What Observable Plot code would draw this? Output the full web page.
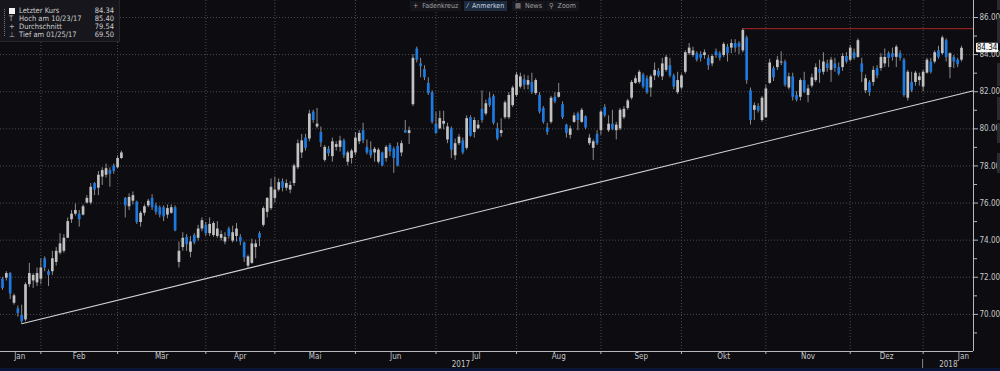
<!DOCTYPE html>
<html><head><meta charset="utf-8">
<script src="https://cdn.jsdelivr.net/npm/d3@7"></script>
<script src="https://cdn.jsdelivr.net/npm/@observablehq/plot@0.6"></script>
<style>
html,body{margin:0;padding:0;}
body{background:#0c0c11;width:1000px;height:371px;overflow:hidden;position:relative;font-family:"Liberation Sans Narrow","DejaVu Sans Condensed","Roboto",sans-serif;}
#chart{position:absolute;left:0;top:0;}
.legend{position:absolute;left:0;top:0;width:119px;height:41px;background:#16161c;border-right:1px solid #26262c;border-bottom:1px solid #26262c;color:#cfcfcf;font-size:7.5px;}
.legend .row{position:absolute;left:0;width:114px;height:8px;line-height:8px;}
.legend .lab{position:absolute;left:19px;}
.legend .val{position:absolute;right:0;}
.legend .ic{position:absolute;left:9px;color:#bbb;}
.legend .sq{position:absolute;left:9px;top:1px;width:6px;height:6px;background:#f2f2f2;}
.legend .vline{position:absolute;left:4px;top:9px;height:27px;border-left:1px dotted #777;}
.tb{position:absolute;top:1px;height:10px;line-height:10px;font-size:7px;color:#a0a0a0;background:#15151b;padding:0 3px;}
.tb.act{background:#1d2b3f;color:#c8d4e4;}
.strip{position:absolute;left:0;top:368px;width:1000px;height:3px;background:#0c1638;}
.edge{position:absolute;left:997px;width:3px;background:#2a2a30;}
</style></head>
<body>
<div id="chart"></div>
<div class="legend">
  <div class="vline"></div>
  <div class="row" style="top:7px"><div class="sq"></div><span class="lab">Letzter Kurs</span><span class="val" id="v0"></span></div>
  <div class="row" style="top:15px"><span class="ic">T</span><span class="lab">Hoch am <span id="d1"></span></span><span class="val" id="v1"></span></div>
  <div class="row" style="top:23px"><span class="ic">+</span><span class="lab">Durchschnitt</span><span class="val" id="v2"></span></div>
  <div class="row" style="top:31px"><span class="ic">⊥</span><span class="lab">Tief am <span id="d3"></span></span><span class="val" id="v3"></span></div>
</div>
<div class="tb" style="left:410px">+&nbsp; Fadenkreuz</div>
<div class="tb act" style="left:464px">⁄&nbsp; Anmerken</div>
<div class="tb" style="left:512px">▤&nbsp; News</div>
<div class="tb" style="left:546px">⚲&nbsp; Zoom</div>
<div class="edge" style="top:0;height:10px"></div>
<div class="edge" style="top:18px;height:25px"></div>
<div class="edge" style="top:63px;height:23px"></div>
<div class="edge" style="top:97px;height:23px"></div>
<div class="edge" style="top:123px;height:20px"></div>
<div class="edge" style="top:153px;height:20px"></div>
<div class="strip"></div>
<script>
// ---- data (daily OHLC, trading-day index order, Jan 18 2017 .. Jan 16 2018) ----
const open = [71.9,71.95,72.2,70.6,70.3,69.95,69.7,71.6,71.8,71.7,
71.9,73.0,72.3,72.3,72.8,73.3,73.4,74.1,75.1,75.4,75.4,75.35,76.0,76.0,77.05,76.8,77.4,77.5,77.75,78.0,
77.9,78.4,76.25,75.8,76.1,76.05,74.95,75.45,75.85,76.25,75.85,75.75,75.75,75.35,75.45,75.75,72.8,73.6,74.15,73.35,
74.25,74.1,74.6,74.8,74.35,74.25,74.2,74.1,73.9,74.6,73.95,74.2,74.15,73.85,72.6,72.75,73.6,74.35,74.8,75.5,
75.7,76.25,76.7,77.15,76.8,76.7,77.05,77.9,78.7,79.5,79.45,80.9,80.1,79.8,78.3,78.9,78.5,79.0,79.0,79.35,
78.2,78.4,78.7,79.3,79.9,79.0,78.85,78.7,78.2,78.7,78.4,79.1,78.9,79.05,78.7,79.9,79.75,81.3,84.3,83.5,
83.2,82.45,81.95,80.25,80.0,80.25,79.4,80.0,78.55,79.2,79.35,78.95,80.6,79.8,80.0,81.05,80.8,81.65,81.75,80.0,
79.75,80.6,80.6,81.25,81.8,82.25,82.65,82.35,82.5,81.9,81.8,81.1,80.05,80.35,81.7,81.7,81.3,80.2,79.65,80.35,
80.8,80.35,80.65,79.2,78.95,79.7,79.9,81.15,79.9,80.25,79.9,80.0,80.6,81.1,81.65,82.45,82.5,82.9,82.7,82.2,
82.85,83.1,82.8,83.15,83.4,82.85,81.95,82.2,83.05,84.05,83.95,84.05,84.0,83.95,83.8,83.5,84.15,84.05,83.95,84.4,
84.35,84.6,84.6,84.2,84.9,82.05,81.0,81.2,80.45,80.6,82.45,83.25,83.3,83.55,83.6,82.2,82.8,81.8,81.7,82.6,
81.8,82.3,82.6,83.2,83.05,83.5,83.15,83.5,83.3,83.3,83.9,83.7,84.1,83.85,83.5,82.05,82.5,82.5,83.25,83.25,
83.5,84.05,84.05,83.85,84.05,83.7,81.65,82.5,82.5,82.6,82.25,83.0,83.6,83.6,84.2,84.05,84.75,83.3,83.85,83.7,83.7];
const high = [72.0,72.3,72.25,71.1,70.45,70.5,71.7,72.75,72.2,72.5,
73.0,73.1,72.4,73.4,73.6,74.35,74.3,75.2,75.6,75.95,75.6,75.9,76.4,77.05,77.1,77.7,77.9,78.1,77.9,78.1,
78.55,78.8,76.3,76.5,76.6,76.1,75.55,75.9,76.2,76.45,76.0,75.85,75.85,75.9,75.9,75.85,73.9,74.4,74.3,74.2,
74.35,74.8,75.2,74.95,75.2,75.0,75.0,74.5,74.4,74.7,74.75,74.9,74.3,73.9,73.2,74.05,74.0,74.45,75.8,76.3,
77.3,77.4,77.3,77.3,77.25,77.15,78.1,79.4,79.7,79.7,81.0,81.0,81.1,80.1,79.1,79.05,79.5,79.3,79.6,79.45,
78.8,78.9,79.8,79.9,80.3,79.4,79.3,79.0,78.95,78.75,79.1,79.2,79.0,79.25,79.35,80.45,80.1,84.0,84.4,83.8,
83.4,82.75,82.05,80.9,80.95,80.95,80.3,80.1,79.45,79.7,79.5,80.7,80.7,80.6,80.45,82.05,81.55,81.95,81.85,80.3,
80.55,81.5,81.95,82.3,83.05,83.0,82.9,82.85,83.0,82.7,81.95,81.2,80.3,81.75,81.95,82.45,81.45,80.25,80.15,80.85,
80.9,81.1,80.7,79.7,79.4,79.9,81.0,81.3,80.7,81.0,80.35,81.1,81.2,81.6,82.6,82.85,83.15,83.0,82.85,82.9,
83.55,83.25,83.8,83.95,83.8,82.95,83.05,82.95,84.2,84.6,84.4,84.15,84.15,84.25,83.95,84.0,84.3,84.15,84.65,84.55,
84.8,84.8,84.7,85.4,85.0,82.2,81.4,81.35,81.75,82.35,83.75,83.35,83.9,84.15,83.7,83.0,83.0,82.0,82.7,83.05,
82.35,82.95,83.5,83.7,84.1,83.7,83.85,83.8,83.55,84.05,84.1,84.5,84.3,84.85,83.8,82.9,82.6,83.35,83.4,84.05,
84.3,84.15,84.35,84.5,84.2,83.8,83.15,83.05,83.1,83.0,83.15,83.8,83.8,84.2,84.45,85.0,84.85,84.1,83.95,83.8,84.45];
const low = [71.3,71.8,70.8,70.5,69.85,69.5,69.6,71.45,71.4,71.5,
71.6,72.3,71.5,72.1,72.6,73.2,73.3,74.1,74.9,75.3,74.7,75.3,75.95,75.9,76.4,76.4,76.95,77.35,76.85,77.55,
77.85,78.35,75.2,75.6,75.9,74.85,74.7,75.3,75.75,75.6,75.35,75.2,75.0,75.15,75.4,74.45,72.5,73.4,73.4,73.05,
73.75,73.95,74.45,74.2,74.2,74.15,74.1,73.95,73.75,74.05,73.85,73.9,73.7,72.8,72.45,72.7,73.0,73.65,74.7,75.2,
75.6,76.0,76.6,76.6,76.65,76.5,76.9,77.8,78.4,78.8,79.3,80.3,80.0,79.0,78.2,78.5,78.2,78.8,78.75,78.4,
78.0,78.1,78.55,79.15,79.2,78.6,78.4,78.2,78.1,77.95,78.2,78.5,77.6,77.95,78.5,79.75,79.15,81.2,83.55,82.75,
82.6,81.8,80.25,79.7,79.95,79.95,79.2,78.4,78.3,79.1,78.6,78.85,79.55,79.5,79.95,80.3,80.7,81.15,80.2,79.35,
79.55,80.5,80.5,81.15,81.7,82.15,82.1,82.1,81.85,81.8,80.8,80.25,79.65,80.25,81.35,81.65,80.5,79.5,79.45,80.3,
79.9,80.3,79.95,79.1,78.3,79.1,79.65,80.6,79.8,79.9,79.4,79.9,80.5,81.0,81.55,82.4,82.4,82.15,81.85,81.7,
82.6,82.75,82.6,83.05,82.75,82.1,81.85,82.1,82.95,83.95,83.85,83.6,83.6,83.75,83.15,83.35,83.8,83.65,83.85,83.6,
84.05,84.1,84.0,84.1,82.4,80.2,80.45,80.85,80.35,80.55,82.4,82.55,83.15,83.4,82.25,82.1,81.5,81.45,81.5,81.9,
81.4,82.2,82.5,82.45,82.9,83.05,82.5,83.05,82.85,83.1,83.5,83.6,83.7,83.8,82.5,81.9,81.75,82.3,82.7,83.1,
83.3,83.3,83.65,83.3,83.65,81.7,81.5,81.95,82.3,82.3,82.0,82.95,82.95,83.5,83.75,83.95,83.6,82.7,83.25,83.3,83.6];
const close = [71.4,72.2,71.1,71.0,70.05,69.6,71.6,72.2,72.1,72.2,
72.5,72.5,72.1,73.0,73.4,73.8,74.1,75.0,75.4,75.6,75.1,75.8,76.25,76.85,76.7,77.5,77.75,77.85,77.55,77.7,
78.4,78.7,75.85,76.3,76.4,74.95,75.45,75.8,76.1,75.75,75.5,75.35,75.25,75.7,75.75,74.5,73.4,74.1,73.75,73.9,
73.85,74.6,75.05,74.35,74.85,74.9,74.6,74.3,74.15,74.2,74.4,74.6,73.9,73.05,73.1,73.8,73.8,74.1,75.7,76.25,
76.85,76.7,77.1,76.8,77.05,76.95,78.0,79.2,79.35,78.95,80.8,80.45,80.25,79.25,79.0,78.65,79.3,79.15,79.35,78.55,
78.7,78.8,79.5,79.75,79.35,78.7,78.55,78.9,78.85,78.0,79.0,78.75,78.4,78.0,79.2,79.78,79.9,83.8,83.7,83.35,
82.75,81.9,80.35,79.75,80.55,80.4,80.1,78.85,79.2,79.55,78.7,80.55,79.6,80.45,80.2,80.45,81.35,81.25,80.3,79.45,
79.9,81.4,81.8,82.2,82.9,82.8,82.35,82.6,81.95,82.6,80.9,80.35,79.8,81.65,81.45,81.95,80.6,79.75,80.0,80.7,
80.45,81.0,80.05,79.5,79.3,79.2,80.9,80.7,80.25,79.95,80.2,81.0,81.05,81.5,82.5,82.7,83.05,82.25,81.95,82.8,
83.15,82.85,83.5,83.85,82.85,82.25,82.6,82.85,84.1,84.35,84.2,83.7,83.8,84.1,83.4,83.9,83.95,83.8,84.55,84.05,
84.6,84.35,84.4,85.3,82.6,80.45,81.25,80.95,81.65,82.15,83.55,82.75,83.7,83.6,82.35,82.8,81.7,81.55,82.6,81.95,
82.15,82.75,83.3,83.0,83.6,83.25,83.7,83.25,82.95,83.9,83.6,84.35,83.8,84.75,83.05,82.7,81.95,83.15,82.85,83.85,
83.85,83.8,83.85,84.4,83.8,81.8,83.05,82.05,83.0,82.8,83.05,83.7,83.05,84.1,83.85,84.9,83.85,84.05,83.6,83.45,84.34];

// month axis (index of first trading day of each month), labels
const monthStartIdx = [10,30,53,71,92,113,134,156,177,199,221,240];
const monthLabels = ["Jan","Feb","Mär","Apr","Mai","Jun","Jul","Aug","Sep","Okt","Nov","Dez","Jan"];
const yearLabels = ["2017","2018"];
const yMajor = [70,72,74,76,78,80,82,84,86];
const yMinor = [69,71,73,75,77,79,81,83,85];

// summary stats from legend
const lastPrice = 84.34;
const highVal = 85.40, highDate = "10/23/17", highIdx = 193;
const avgVal = 79.54;
const lowVal = 69.50, lowDate = "01/25/17", lowIdx = 5;
const trendEndVal = 82.05; // trend line value at right edge of plot

// scale domains
const xDom = [-0.52, 253.13];
const yDom = [68.0, 86.916];

const candles = open.map((o,i)=>({i, o, h:high[i], l:low[i], c:close[i]}));
const bounds = [-1, ...monthStartIdx, 261];
const monthMid = monthLabels.map((m,k)=>({label:m, x:(bounds[k]+bounds[k+1])/2}));
const yearMid = [{label:yearLabels[0], x:(bounds[0]+monthStartIdx[11])/2},{label:yearLabels[1], x:(monthStartIdx[11]+xDom[1])/2}];
const trend = [{x:lowIdx, y:lowVal},{x:xDom[1], y:trendEndVal}];

const UP="#c2c2c2", DOWN="#1f7ae0", WICK="#8c8c8c", GRID="#4a4a50", AX="#b8b8b8", TXT="#c8c8c8";

const plot = Plot.plot({
  width:1000, height:371,
  marginLeft:0, marginRight:27, marginTop:0, marginBottom:20,
  style:{background:"transparent", color:TXT, fontFamily:'"Liberation Sans Narrow","DejaVu Sans Condensed",sans-serif', fontSize:"8px", overflow:"visible"},
  x:{type:"linear", domain:xDom, axis:null},
  y:{type:"linear", domain:yDom, axis:null},
  marks:[
    Plot.ruleY(yMajor, {stroke:GRID, strokeDasharray:"1,2"}),
    Plot.ruleX(monthStartIdx, {stroke:GRID, strokeDasharray:"1,2"}),
    Plot.line(trend, {x:"x", y:"y", stroke:"#d4d4d4", strokeWidth:1.1}),
    Plot.ruleY([highVal], {x1:highIdx, x2:xDom[1], stroke:"#8c2020", strokeWidth:1.2}),
    Plot.ruleX(candles, {x:"i", y1:"l", y2:"h", stroke:WICK, strokeWidth:1}),
    Plot.ruleX(candles, {x:"i", y1:d=>Math.min(d.o,d.c), y2:d=>Math.max(d.o,d.c), stroke:d=>d.c>=d.o?UP:DOWN, strokeWidth:2.7}),
    Plot.ruleY([yDom[0]], {stroke:AX}),
    Plot.ruleX([xDom[1]], {stroke:AX}),
    Plot.axisY({ticks:yMajor, anchor:"right", tickSize:4, tickPadding:2, tickFormat:d=>d.toFixed(2), stroke:AX, fill:TXT, fontSize:8}),
    Plot.axisY({ticks:yMinor, anchor:"right", tickSize:3, tickFormat:()=>"", stroke:AX}),
    Plot.axisX({ticks:monthStartIdx, anchor:"bottom", tickSize:3, tickFormat:()=>"", stroke:AX}),
    Plot.text(monthMid, {x:"x", text:"label", frameAnchor:"bottom", lineAnchor:"top", dy:2, fill:TXT, fontSize:8}),
    Plot.text(yearMid, {x:"x", text:"label", frameAnchor:"bottom", lineAnchor:"top", dy:10, fill:TXT, fontSize:8})
  ]
});
document.getElementById("chart").appendChild(plot);

// year separator + last price tag, positioned via plot scales
const sx = plot.scale("x"), sy = plot.scale("y");
const svg = d3.select(plot);
const xs = sx.apply(monthStartIdx[11]);
svg.append("line").attr("x1",xs).attr("x2",xs).attr("y1",sy.apply(yDom[0])+8).attr("y2",371).attr("stroke","#8a8a8a");
const ax = sx.apply(xDom[1]), ly = sy.apply(lastPrice);
const g = svg.append("g");
g.append("rect").attr("x",ax+3).attr("y",ly-5).attr("width",22).attr("height",9.5).attr("fill","#f4f4f4").attr("rx",1);
g.append("text").attr("x",ax+14).attr("y",ly-0.3).attr("dy","0.35em").attr("text-anchor","middle")
  .attr("font-size",8).attr("fill","#111").attr("font-family",'"Liberation Sans Narrow","DejaVu Sans Condensed",sans-serif').text(lastPrice.toFixed(2));

document.getElementById("v0").textContent = lastPrice.toFixed(2);
document.getElementById("v1").textContent = highVal.toFixed(2);
document.getElementById("d1").textContent = highDate;
document.getElementById("v2").textContent = avgVal.toFixed(2);
document.getElementById("v3").textContent = lowVal.toFixed(2);
document.getElementById("d3").textContent = lowDate;
</script>
</body></html>
